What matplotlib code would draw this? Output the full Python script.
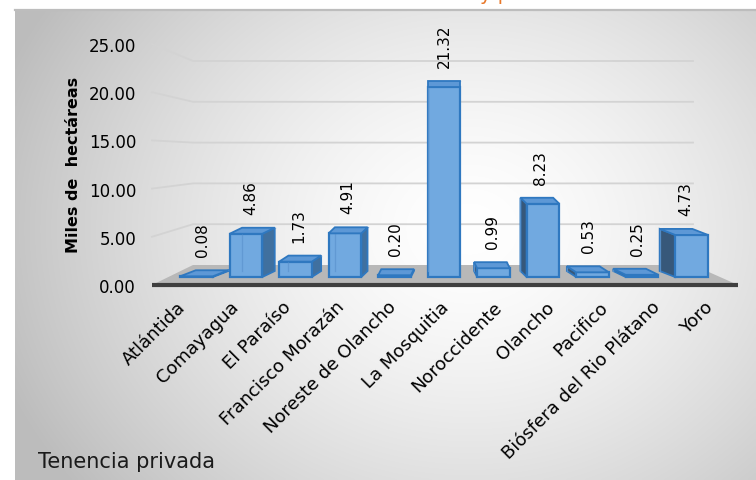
import numpy as np
import matplotlib
matplotlib.use("Agg")
import matplotlib.pyplot as plt
from matplotlib.patches import Polygon

# ---------------- data ----------------
categories = ["Atlántida", "Comayagua", "El Paraíso", "Francisco Morazán",
              "Noreste de Olancho", "La Mosquitia", "Noroccidente", "Olancho",
              "Pacifico", "Biósfera del Rio Plátano", "Yoro"]
values = [0.08, 4.86, 1.73, 4.91, 0.20, 21.32, 0.99, 8.23, 0.53, 0.25, 4.73]
y_ticks = [0, 5, 10, 15, 20, 25]
y_label = "Miles de  hectáreas"
corner_text = "Tenencia privada"

W, H = 756, 481
fig = plt.figure(figsize=(W / 100, H / 100), dpi=100)
plt.rcParams['font.family'] = ['DejaVu Sans']

# background / decoration axes in pixel coordinates
bg = fig.add_axes([0, 0, 1, 1])
bg.set_xlim(0, W)
bg.set_ylim(H, 0)
bg.axis("off")

# radial gradient panel
PX0, PY0 = 15, 11
gx = np.linspace(PX0, W, 300)
gy = np.linspace(PY0, H, 200)
GX, GY = np.meshgrid(gx, gy)
r = np.sqrt(((GX - 470) / 500) ** 2 + ((GY - 230) / 420) ** 2)
r = np.clip(r, 0, 1) ** 1.5
light = np.array([1.0, 1.0, 1.0])
dark = np.array([0.74, 0.74, 0.74])
img = light[None, None, :] * (1 - r[..., None]) + dark[None, None, :] * r[..., None]
bg.imshow(img, extent=(PX0, W, H, PY0), aspect="auto", zorder=0, interpolation="bilinear")
bg.plot([PX0, W], [PY0, PY0], color="#bdbdbd", lw=1.6, zorder=1)

# clipped orange title fragment
bg.text(495, 0.5, "y p", color="#E8782A", fontsize=14, ha="center", va="baseline", zorder=1)

# 3D layout constants (pixels)
FL, FR, FY = 152, 738, 286      # floor front edge
BL, BR, BY = 193, 693, 266      # back wall bottom
TICK_PX = 9.64                  # front tick spacing per unit
BACK_PX = 8.16                  # back wall spacing per unit

# gridlines (front label -> back wall)
for t in y_ticks[1:]:
    fy = FY - TICK_PX * t
    by = BY - BACK_PX * t
    bg.plot([FL, BL, BR], [fy, by, by], color="#d3d3d3", lw=1.3, zorder=1)

# floor
floor = Polygon([(FL, FY), (FR, FY), (BR, BY), (BL, BY)], closed=True,
                facecolor="#b8b8b8", edgecolor="none", zorder=1)
bg.add_patch(floor)
bg.plot([FL, FR], [FY, FY], color="#3f3f3f", lw=3, zorder=2, solid_capstyle="butt")

# ---------------- data axes ----------------
AX_TOP, AX_BOT = 40, 290
rect = [FL / W, 1 - AX_BOT / H, (FR - FL) / W, (AX_BOT - AX_TOP) / H]

BAR_BASE = 278
BAR_PX = 8.9                 # px per unit (front face)
SLOT_PX = 49.5
X0_PX = 196.5

ax = fig.add_axes(rect)
ax.patch.set_alpha(0)
ax.set_xlim((FL - X0_PX) / SLOT_PX, (FR - X0_PX) / SLOT_PX)
ax.set_ylim((BAR_BASE - AX_BOT) / BAR_PX, (BAR_BASE - AX_TOP) / BAR_PX)
ax.axis("off")

x = np.arange(len(categories))
width = 0.66
front_col = "#71A9E0"
edge_col = "#2F78C0"
bars = ax.bar(x, values, width=width, color=front_col, edgecolor=edge_col,
              linewidth=1.6, zorder=4)

dy = 6 / BAR_PX
for i, (b, v) in enumerate(zip(bars, values)):
    dx = -3.1 * (i - 5) / SLOT_PX
    x0, x1 = b.get_x(), b.get_x() + b.get_width()
    # back edges seen through
    ax.plot([x0 + dx, x0 + dx, x1 + dx], [dy, v + dy, v + dy], color="#5d95d0",
            lw=0.9, zorder=5, alpha=0.8)
    # side face
    if dx > 0:
        side = [(x1, 0), (x1, v), (x1 + dx, v + dy), (x1 + dx, dy)]
        sc = "#40709f"
    elif dx < 0:
        side = [(x0, 0), (x0, v), (x0 + dx, v + dy), (x0 + dx, dy)]
        sc = "#37587a"
    else:
        side = None
    if side is not None:
        ax.add_patch(Polygon(side, closed=True, facecolor=sc, edgecolor=edge_col,
                             lw=1.3, zorder=3))
    # top face
    top = [(x0, v), (x1, v), (x1 + dx, v + dy), (x0 + dx, v + dy)]
    ax.add_patch(Polygon(top, closed=True, facecolor="#5d98d6", edgecolor=edge_col,
                         lw=1.3, zorder=5))
    ax.annotate(f"{v:.2f}", (i + dx * 0.4, v + dy), xytext=(0, 10),
                textcoords="offset points", rotation=90, ha="center", va="bottom",
                fontsize=11, color="#000000", zorder=6)

# y tick labels axis
ay = fig.add_axes(rect)
ay.patch.set_alpha(0)
ay.set_ylim((FY - AX_BOT) / TICK_PX, (FY - AX_TOP) / TICK_PX)
ay.set_yticks(y_ticks)
ay.set_yticklabels([f"{t:.2f}" for t in y_ticks], fontsize=12)
ay.tick_params(axis="y", length=0, pad=11.5)
ay.set_xticks([])
for s in ay.spines.values():
    s.set_visible(False)
ay.set_ylabel(y_label, fontsize=11.5, fontweight="bold")
ay.yaxis.set_label_coords((81 - FL) / (FR - FL), (AX_BOT - 165) / (AX_BOT - AX_TOP))

# category labels axis
LAB0_PX, LAB_STEP = 176.5, 52.75
axl = fig.add_axes(rect)
axl.patch.set_alpha(0)
axl.set_xlim((FL - LAB0_PX) / LAB_STEP, (FR - LAB0_PX) / LAB_STEP)
axl.set_xticks(x)
axl.set_xticklabels(categories, rotation=45, ha="right", rotation_mode="anchor",
                    fontsize=13)
axl.tick_params(axis="x", length=0, pad=6)
axl.set_yticks([])
for s in axl.spines.values():
    s.set_visible(False)

bg.text(38, 462, corner_text, fontsize=15, ha="left", va="center", color="#1a1a1a", zorder=3)

fig.savefig("out.png", dpi=100)
